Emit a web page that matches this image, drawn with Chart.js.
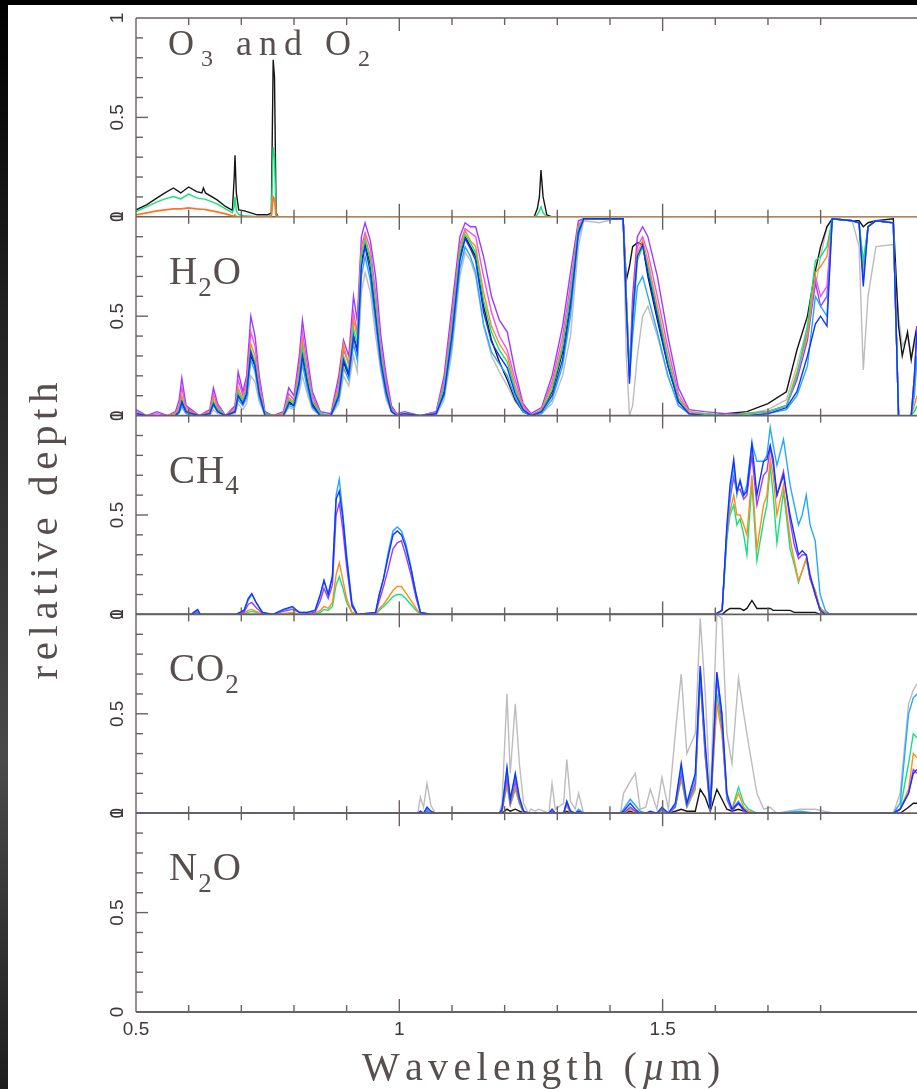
<!DOCTYPE html>
<html>
<head>
<meta charset="utf-8">
<title>Relative depth of absorption bands</title>
<script src="https://cdn.jsdelivr.net/npm/chart.js@4.4.1/dist/chart.umd.min.js"></script>
<style>
  html, body { margin: 0; padding: 0; background: #fff; }
  #spectra { display: block; width: 917px; height: 1089px; }
</style>
</head>
<body>
<canvas id="spectra" width="917" height="1089"></canvas>
<script>
// wavelength (micron) and relative depth

const xTickLabels = ['0.5', '1', '1.5']
const yTickLabels = ['0', '0.5', '1']

// --- O3 and O2 ---
const o3Wave = [0.5, 0.52, 0.54, 0.555, 0.571, 0.585, 0.6, 0.615, 0.625, 0.628, 0.632, 0.654, 0.67, 0.683,
    0.6865, 0.688, 0.6905, 0.695, 0.706, 0.73, 0.75, 0.757, 0.7605, 0.763, 0.766, 0.77,
    1.256, 1.262, 1.266, 1.269, 1.273, 1.28, 1.29, 1.983]
const o3Black = [0.035, 0.06, 0.095, 0.12, 0.145, 0.12, 0.15, 0.127, 0.12, 0.145, 0.12, 0.085, 0.052, 0.032,
    0.2, 0.31, 0.12, 0.035, 0.03, 0.01, 0.01, 0.02, 0.79, 0.7, 0.02, 0,
    0, 0.04, 0.1, 0.235, 0.1, 0.01, 0, 0]
const o3Green = [0.026, 0.05, 0.075, 0.09, 0.102, 0.09, 0.114, 0.095, 0.09, 0.09, 0.088, 0.065, 0.04, 0.02,
    0.05, 0.1, 0.03, 0.01, 0.005, 0, 0, 0.01, 0.35, 0.3, 0.01, 0,
    0, 0.01, 0.03, 0.05, 0.02, 0, 0, 0]
const o3Orange = [0.01, 0.02, 0.03, 0.035, 0.04, 0.04, 0.045, 0.04, 0.038, 0.038, 0.036, 0.025, 0.015, 0.005,
    0.005, 0.01, 0, 0, 0, 0, 0, 0, 0.1, 0.09, 0, 0,
    0, 0, 0, 0, 0, 0, 0, 0]

// --- H2O ---
const h2oWave = [
    0.50, 0.52, 0.54, 0.56, 0.575, 0.582, 0.587, 0.595, 0.62, 0.64, 0.647, 0.655, 0.67, 0.688, 0.694, 0.703, 0.71, 0.718, 0.726, 0.734, 0.745, 0.76,
    0.78, 0.79, 0.80, 0.81, 0.816, 0.825, 0.835, 0.85,
    0.87, 0.885, 0.894, 0.904, 0.913, 0.92, 0.928, 0.935, 0.945, 0.955, 0.965, 0.975, 0.985, 0.995, 1.01, 1.04,
    1.07, 1.085, 1.10, 1.115, 1.125, 1.135, 1.145, 1.16, 1.175, 1.19, 1.205, 1.22, 1.235, 1.25,
    1.27, 1.29, 1.31, 1.325, 1.34, 1.35, 1.38, 1.41, 1.425, 1.431, 1.437, 1.443, 1.452, 1.462, 1.472, 1.49, 1.51, 1.53, 1.55,
    1.58, 1.62, 1.66, 1.70, 1.735, 1.755, 1.775, 1.79, 1.80, 1.812, 1.822, 1.86, 1.873, 1.881, 1.89, 1.905, 1.938, 1.948, 1.955, 1.965, 1.972, 1.978, 1.983]
const h2oPurple = [
    0.03, 0, 0.02, 0, 0.02, 0.08, 0.19, 0.05, 0, 0.03, 0.14, 0.06, 0, 0.05, 0.22, 0.12, 0.2, 0.5, 0.4, 0.2, 0.02, 0,
    0.02, 0.14, 0.1, 0.3, 0.48, 0.3, 0.12, 0.02,
    0.01, 0.2, 0.38, 0.3, 0.6, 0.48, 0.9, 0.97, 0.88, 0.7, 0.4, 0.2, 0.05, 0.01, 0.02, 0,
    0.02, 0.2, 0.55, 0.9, 0.97, 0.95, 0.95, 0.8, 0.6, 0.48, 0.42, 0.22, 0.06, 0.01,
    0.04, 0.2, 0.45, 0.72, 0.98, 0.99, 0.99, 0.99, 0.99, 0.6, 0.2, 0.6, 0.9, 0.95, 0.9, 0.7, 0.4, 0.14, 0.03,
    0.02, 0.01, 0.01, 0.02, 0.05, 0.18, 0.38, 0.67, 0.55, 0.6, 0.99, 0.98, 0.97, 0.7, 0.95, 0.98, 0.97, 0, 0, 0, 0, 0.2, 0.45]
const h2oMagenta = [
    0.02, 0, 0.01, 0, 0.01, 0.05, 0.14, 0.04, 0, 0.02, 0.11, 0.05, 0, 0.04, 0.18, 0.1, 0.17, 0.42, 0.35, 0.17, 0.01, 0,
    0.01, 0.11, 0.08, 0.26, 0.42, 0.26, 0.1, 0.01,
    0, 0.17, 0.33, 0.26, 0.52, 0.42, 0.85, 0.92, 0.84, 0.62, 0.35, 0.17, 0.04, 0.01, 0.01, 0,
    0.02, 0.17, 0.5, 0.86, 0.94, 0.92, 0.9, 0.7, 0.52, 0.4, 0.33, 0.18, 0.05, 0,
    0.03, 0.17, 0.4, 0.66, 0.96, 0.99, 0.99, 0.99, 0.99, 0.6, 0.2, 0.5, 0.85, 0.9, 0.82, 0.6, 0.34, 0.11, 0.02,
    0.01, 0, 0.01, 0.02, 0.05, 0.2, 0.42, 0.7, 0.6, 0.65, 0.99, 0.98, 0.97, 0.72, 0.95, 0.98, 0.97, 0, 0, 0, 0, 0.12, 0.3]
const h2oOrange = [
    0.01, 0, 0, 0, 0.01, 0.04, 0.1, 0.03, 0, 0.02, 0.09, 0.04, 0, 0.03, 0.14, 0.08, 0.15, 0.36, 0.3, 0.14, 0.01, 0,
    0.01, 0.09, 0.07, 0.22, 0.38, 0.22, 0.08, 0.01,
    0, 0.14, 0.36, 0.25, 0.48, 0.4, 0.82, 0.9, 0.8, 0.58, 0.32, 0.14, 0.03, 0, 0.01, 0,
    0.01, 0.15, 0.46, 0.84, 0.93, 0.88, 0.85, 0.62, 0.45, 0.36, 0.3, 0.15, 0.04, 0,
    0.03, 0.15, 0.36, 0.62, 0.95, 0.99, 0.99, 0.99, 0.99, 0.6, 0.22, 0.5, 0.82, 0.88, 0.78, 0.55, 0.3, 0.09, 0.02,
    0.01, 0, 0.01, 0.02, 0.05, 0.22, 0.4, 0.72, 0.75, 0.8, 0.99, 0.98, 0.97, 0.75, 0.95, 0.98, 0.97, 0, 0, 0, 0, 0.05, 0.1]
const h2oGreen = [
    0.01, 0, 0, 0, 0, 0.03, 0.08, 0.02, 0, 0.01, 0.07, 0.03, 0, 0.02, 0.12, 0.07, 0.13, 0.33, 0.27, 0.12, 0.01, 0,
    0, 0.08, 0.06, 0.2, 0.34, 0.2, 0.07, 0.01,
    0, 0.12, 0.3, 0.22, 0.44, 0.36, 0.8, 0.88, 0.78, 0.55, 0.3, 0.13, 0.03, 0, 0.01, 0,
    0.01, 0.14, 0.44, 0.82, 0.91, 0.87, 0.82, 0.58, 0.42, 0.33, 0.27, 0.13, 0.03, 0,
    0.02, 0.13, 0.34, 0.6, 0.94, 0.99, 0.99, 0.99, 0.99, 0.6, 0.22, 0.45, 0.78, 0.85, 0.75, 0.52, 0.28, 0.08, 0.01,
    0.01, 0, 0.01, 0.02, 0.05, 0.2, 0.45, 0.78, 0.8, 0.85, 0.99, 0.98, 0.97, 0.78, 0.95, 0.98, 0.97, 0, 0, 0, 0, 0.02, 0.05]
const h2oBlack = [
    0, 0, 0, 0, 0, 0.02, 0.06, 0.02, 0, 0.01, 0.06, 0.03, 0, 0.02, 0.1, 0.06, 0.1, 0.3, 0.25, 0.11, 0.01, 0,
    0, 0.07, 0.05, 0.18, 0.3, 0.18, 0.06, 0,
    0, 0.1, 0.27, 0.2, 0.4, 0.33, 0.78, 0.86, 0.76, 0.52, 0.33, 0.16, 0.04, 0.01, 0.01, 0,
    0.01, 0.12, 0.42, 0.8, 0.9, 0.85, 0.8, 0.55, 0.38, 0.27, 0.18, 0.08, 0.02, 0,
    0.02, 0.12, 0.32, 0.58, 0.93, 0.99, 0.99, 0.99, 0.99, 0.68, 0.75, 0.85, 0.87, 0.86, 0.7, 0.48, 0.25, 0.07, 0.01,
    0, 0.01, 0.02, 0.06, 0.12, 0.33, 0.5, 0.73, 0.85, 0.95, 0.99, 0.98, 0.98, 0.95, 0.97, 0.98, 0.99, 0.45, 0.3, 0.42, 0.28, 0.38, 0.45]
const h2oBlue = [
    0.01, 0, 0, 0, 0, 0.02, 0.07, 0.02, 0, 0.01, 0.06, 0.02, 0, 0.02, 0.1, 0.06, 0.11, 0.32, 0.25, 0.11, 0, 0,
    0, 0.06, 0.05, 0.17, 0.3, 0.17, 0.05, 0,
    0, 0.1, 0.28, 0.21, 0.4, 0.32, 0.75, 0.85, 0.72, 0.5, 0.27, 0.12, 0.02, 0, 0.01, 0,
    0.01, 0.11, 0.4, 0.78, 0.89, 0.84, 0.78, 0.52, 0.37, 0.3, 0.24, 0.11, 0.03, 0,
    0.02, 0.1, 0.28, 0.55, 0.92, 0.99, 0.99, 0.99, 0.99, 0.55, 0.16, 0.5, 0.8, 0.86, 0.72, 0.5, 0.25, 0.07, 0.01,
    0, 0, 0, 0.01, 0.04, 0.12, 0.3, 0.46, 0.5, 0.45, 0.99, 0.98, 0.97, 0.65, 0.95, 0.98, 0.97, 0, 0, 0, 0, 0.2, 0.42]
const h2oLightBlue = [
    0.01, 0, 0, 0, 0, 0.02, 0.05, 0.01, 0, 0.01, 0.05, 0.02, 0, 0.02, 0.08, 0.05, 0.09, 0.28, 0.22, 0.09, 0, 0,
    0, 0.05, 0.04, 0.15, 0.26, 0.14, 0.04, 0,
    0, 0.08, 0.24, 0.18, 0.36, 0.28, 0.7, 0.8, 0.68, 0.46, 0.24, 0.1, 0.02, 0, 0, 0,
    0.01, 0.1, 0.36, 0.74, 0.85, 0.8, 0.72, 0.46, 0.32, 0.26, 0.2, 0.09, 0.02, 0,
    0.01, 0.08, 0.25, 0.5, 0.9, 0.99, 0.99, 0.99, 0.99, 0.55, 0.18, 0.4, 0.65, 0.7, 0.6, 0.42, 0.2, 0.05, 0.01,
    0, 0, 0, 0.01, 0.03, 0.1, 0.25, 0.6, 0.55, 0.5, 0.99, 0.98, 0.97, 0.68, 0.95, 0.98, 0.97, 0, 0, 0, 0, 0.1, 0.3]
const h2oGray = [
    0, 0, 0, 0, 0, 0.01, 0.04, 0.01, 0, 0, 0.03, 0.01, 0, 0.01, 0.06, 0.03, 0.06, 0.2, 0.17, 0.07, 0, 0,
    0, 0.04, 0.03, 0.12, 0.2, 0.11, 0.03, 0,
    0, 0.06, 0.2, 0.15, 0.3, 0.22, 0.62, 0.72, 0.62, 0.4, 0.22, 0.08, 0.02, 0, 0, 0,
    0, 0.08, 0.32, 0.7, 0.82, 0.78, 0.7, 0.45, 0.3, 0.22, 0.15, 0.07, 0.02, 0,
    0.01, 0.06, 0.2, 0.4, 0.85, 0.98, 0.97, 0.99, 0.99, 0.3, 0, 0.05, 0.3, 0.5, 0.55, 0.4, 0.2, 0.05, 0.01,
    0, 0, 0.01, 0.03, 0.08, 0.25, 0.45, 0.65, 0.8, 0.95, 0.99, 0.98, 0.85, 0.23, 0.6, 0.85, 0.86, 0.5, 0.35, 0.4, 0.3, 0.35, 0.45]

// --- CH4 ---
const ch4Wave = [0.5, 0.605, 0.612, 0.617, 0.622, 0.69,
    0.705, 0.713, 0.72, 0.728, 0.74, 0.76,
    0.78, 0.797, 0.81, 0.825, 0.84,
    0.85, 0.857, 0.865, 0.873, 0.88, 0.886, 0.893, 0.9, 0.91, 0.92,
    0.955, 0.962, 0.97, 0.978, 0.988, 0.996, 1.004, 1.012, 1.022, 1.032, 1.04, 1.06,
    1.6, 1.613, 1.622, 1.628, 1.635, 1.641, 1.647, 1.654, 1.66, 1.6695,
    1.679, 1.6916, 1.698, 1.7043, 1.71, 1.717, 1.7295, 1.742, 1.75, 1.758,
    1.765, 1.7727, 1.78, 1.7897, 1.799, 1.809, 1.818, 1.983]
const ch4LightBlue = [0, 0, 0.01, 0.02, 0, 0,
    0.02, 0.07, 0.1, 0.06, 0.01, 0,
    0.02, 0.035, 0.01, 0.01, 0.02,
    0.1, 0.17, 0.1, 0.2, 0.6, 0.68, 0.5, 0.3, 0.06, 0,
    0.01, 0.1, 0.18, 0.3, 0.42, 0.44, 0.42, 0.36, 0.24, 0.1, 0.01, 0,
    0, 0.02, 0.42, 0.6, 0.75, 0.6, 0.68, 0.6, 0.65, 0.86,
    0.77, 0.77, 0.8, 0.94, 0.85, 0.75, 0.88, 0.65, 0.55, 0.45,
    0.5, 0.6, 0.45, 0.37, 0.1, 0.02, 0, 0]
const ch4Blue = [0, 0, 0.015, 0.025, 0, 0,
    0.02, 0.08, 0.105, 0.06, 0.01, 0,
    0.025, 0.04, 0.01, 0.01, 0.02,
    0.1, 0.17, 0.1, 0.19, 0.58, 0.62, 0.48, 0.28, 0.05, 0,
    0.01, 0.1, 0.18, 0.28, 0.4, 0.42, 0.4, 0.34, 0.23, 0.1, 0.01, 0,
    0, 0.02, 0.45, 0.65, 0.78, 0.62, 0.67, 0.6, 0.62, 0.86,
    0.6, 0.77, 0.78, 0.85, 0.78, 0.6, 0.7, 0.5, 0.4, 0.3,
    0.32, 0.3, 0.2, 0.1, 0.02, 0, 0, 0]
const ch4Purple = [0, 0, 0.005, 0.01, 0, 0,
    0.01, 0.05, 0.06, 0.035, 0.005, 0,
    0.015, 0.025, 0.01, 0.005, 0.01,
    0.07, 0.13, 0.08, 0.15, 0.5, 0.56, 0.42, 0.24, 0.04, 0,
    0.005, 0.07, 0.14, 0.22, 0.33, 0.36, 0.37, 0.3, 0.2, 0.08, 0.01, 0,
    0, 0.02, 0.42, 0.58, 0.69, 0.62, 0.63, 0.58, 0.6, 0.8,
    0.55, 0.7, 0.72, 0.84, 0.75, 0.6, 0.72, 0.47, 0.35, 0.28,
    0.3, 0.3, 0.18, 0.1, 0.02, 0, 0, 0]
const ch4Orange = [0, 0, 0, 0, 0, 0,
    0.005, 0.02, 0.025, 0.015, 0, 0,
    0.005, 0.01, 0, 0, 0.005,
    0.02, 0.04, 0.03, 0.06, 0.2, 0.26, 0.17, 0.08, 0.01, 0,
    0, 0.03, 0.05, 0.08, 0.12, 0.14, 0.14, 0.11, 0.07, 0.03, 0, 0,
    0, 0.02, 0.4, 0.52, 0.6, 0.5, 0.5, 0.45, 0.4, 0.7,
    0.33, 0.55, 0.6, 0.78, 0.7, 0.5, 0.65, 0.38, 0.27, 0.17,
    0.22, 0.28, 0.18, 0.12, 0.03, 0.01, 0, 0]
const ch4Green = [0, 0, 0, 0, 0, 0,
    0, 0.01, 0.015, 0.01, 0, 0,
    0, 0.005, 0, 0, 0,
    0.01, 0.025, 0.02, 0.04, 0.15, 0.19, 0.13, 0.06, 0.01, 0,
    0, 0.02, 0.04, 0.06, 0.09, 0.1, 0.1, 0.08, 0.05, 0.02, 0, 0,
    0, 0.02, 0.38, 0.5, 0.55, 0.45, 0.48, 0.4, 0.3, 0.66,
    0.27, 0.47, 0.55, 0.75, 0.6, 0.36, 0.62, 0.33, 0.25, 0.16,
    0.22, 0.28, 0.18, 0.12, 0.03, 0.01, 0, 0]
const ch4Black = [0, 0, 0, 0, 0, 0,
    0, 0, 0, 0, 0, 0,
    0, 0, 0, 0, 0,
    0, 0, 0, 0, 0, 0, 0, 0, 0, 0,
    0, 0, 0, 0, 0, 0, 0, 0, 0, 0, 0, 0,
    0, 0, 0.02, 0.03, 0.03, 0.03, 0.03, 0.02, 0.03, 0.07,
    0.03, 0.03, 0.03, 0.03, 0.02, 0.02, 0.02, 0.02, 0.01, 0.01,
    0.01, 0.01, 0.01, 0.01, 0, 0, 0, 0]

// --- CO2 ---
const co2Wave = [0.5, 1.035, 1.04, 1.046, 1.0525, 1.06, 1.068,
    1.19, 1.195, 1.2044, 1.2107, 1.2202, 1.228, 1.236, 1.245,
    1.25, 1.258, 1.265, 1.284, 1.29, 1.296,
    1.312, 1.318, 1.325, 1.334, 1.3404, 1.35,
    1.42, 1.4258, 1.4385, 1.448, 1.4575, 1.468, 1.4765, 1.489, 1.4987, 1.511,
    1.524, 1.5353, 1.546, 1.562, 1.5714, 1.581, 1.5905, 1.603, 1.6126, 1.622, 1.6316, 1.644, 1.654, 1.663, 1.679, 1.692, 1.704, 1.717,
    1.761, 1.7897, 1.825, 1.938, 1.951, 1.967, 1.976, 1.983]
const co2Gray = [0, 0, 0.08, 0.03, 0.15, 0.04, 0,
    0, 0.05, 0.6, 0.2, 0.55, 0.25, 0.05, 0,
    0.02, 0.01, 0.02, 0, 0.15, 0.02,
    0.05, 0.27, 0.06, 0.02, 0.1, 0,
    0, 0.1, 0.16, 0.2, 0.02, 0.03, 0.12, 0.02, 0.18, 0.02,
    0.4, 0.7, 0.3, 0.4, 0.98, 0.6, 0.08, 1.0, 0.98, 0.4, 0.25, 0.68, 0.5, 0.35, 0.1, 0.02, 0.03, 0,
    0.02, 0.02, 0, 0, 0.1, 0.55, 0.62, 0.65]
const co2Blue = [0, 0, 0.01, 0, 0.03, 0.01, 0,
    0, 0.02, 0.23, 0.07, 0.2, 0.08, 0.01, 0,
    0, 0, 0, 0, 0.02, 0,
    0, 0.06, 0.01, 0, 0.01, 0,
    0, 0.01, 0.05, 0.02, 0, 0, 0.01, 0, 0.03, 0,
    0.05, 0.25, 0.05, 0.2, 0.74, 0.35, 0.02, 0.71, 0.5, 0.1, 0.02, 0.05, 0.02, 0, 0, 0, 0, 0,
    0, 0, 0, 0, 0.02, 0.1, 0.2, 0.22]
const co2LightBlue = [0, 0, 0, 0, 0.02, 0, 0,
    0, 0.02, 0.22, 0.06, 0.19, 0.07, 0.01, 0,
    0, 0, 0, 0, 0.01, 0,
    0, 0.06, 0.01, 0, 0.02, 0,
    0, 0.02, 0.07, 0.04, 0.01, 0, 0, 0, 0.02, 0,
    0.04, 0.23, 0.04, 0.18, 0.72, 0.33, 0.02, 0.7, 0.5, 0.08, 0.02, 0.06, 0.02, 0, 0, 0, 0, 0,
    0.01, 0, 0, 0, 0.05, 0.5, 0.58, 0.6]
const co2Purple = [0, 0, 0, 0, 0.01, 0, 0,
    0, 0.01, 0.18, 0.05, 0.16, 0.06, 0.01, 0,
    0, 0, 0, 0, 0.01, 0,
    0, 0.05, 0.01, 0, 0, 0,
    0, 0, 0.03, 0.01, 0, 0, 0, 0, 0.02, 0,
    0.03, 0.2, 0.04, 0.15, 0.7, 0.3, 0.01, 0.68, 0.45, 0.07, 0.01, 0.05, 0.01, 0, 0, 0, 0, 0,
    0, 0, 0, 0, 0.02, 0.1, 0.22, 0.2]
const co2Orange = [0, 0, 0, 0, 0.01, 0, 0,
    0, 0.01, 0.15, 0.04, 0.13, 0.05, 0, 0,
    0, 0, 0, 0, 0.01, 0,
    0, 0.04, 0, 0, 0, 0,
    0, 0, 0.02, 0.01, 0, 0, 0, 0, 0.01, 0,
    0.03, 0.18, 0.03, 0.13, 0.68, 0.28, 0.01, 0.55, 0.4, 0.08, 0.02, 0.1, 0.03, 0.01, 0, 0, 0, 0,
    0, 0, 0, 0, 0.02, 0.12, 0.3, 0.28]
const co2Green = [0, 0, 0, 0, 0.01, 0, 0,
    0, 0.01, 0.14, 0.04, 0.12, 0.05, 0, 0,
    0, 0, 0, 0, 0.01, 0,
    0, 0.04, 0, 0, 0, 0,
    0, 0, 0.03, 0.01, 0, 0, 0, 0, 0.01, 0,
    0.03, 0.17, 0.03, 0.12, 0.68, 0.28, 0.01, 0.6, 0.42, 0.08, 0.02, 0.13, 0.05, 0.02, 0, 0, 0, 0,
    0, 0, 0, 0, 0.02, 0.25, 0.4, 0.38]
const co2Black = [0, 0, 0, 0, 0.01, 0, 0,
    0, 0, 0.02, 0.01, 0.02, 0.01, 0, 0,
    0, 0, 0, 0, 0, 0,
    0, 0.01, 0, 0, 0, 0,
    0, 0, 0.01, 0, 0, 0, 0, 0, 0, 0,
    0.01, 0.02, 0.01, 0.01, 0.12, 0.08, 0.01, 0.12, 0.07, 0.02, 0.01, 0.02, 0.01, 0, 0, 0, 0, 0,
    0, 0, 0, 0, 0, 0.03, 0.05, 0.05]

// --- N2O (nothing above zero) ---
const n2oWave = [0.5, 1.983]
const n2oBlack = [0, 0]

const panelAxes = ['yO3', 'yH2O', 'yCH4', 'yCO2', 'yN2O']
const panelLabels = [
    [['O', 0], ['3', 1], [' and O', 0], ['2', 1]],
    [['H', 0], ['2', 1], ['O', 0]],
    [['CH', 0], ['4', 1]],
    [['CO', 0], ['2', 1]],
    [['N', 0], ['2', 1], ['O', 0]],
]

const col = {
    black: '#151515', gray: '#bcbcbc', purple: '#9b3cff', magenta: '#f04ef0',
    orange: '#ff8c1e', green: '#16e07c', blue: '#1234ff', lightblue: '#24a8ff', o3orange: '#ff7424'
}
const inkColor = '#574e4e'
const tickInk = '#3e3838'
const axisColor = '#6a6060'

function series(wave, values, color, axis, width) {
    return {
        data: wave.map((w, i) => ({ x: w, y: values[i] })),
        borderColor: color,
        borderWidth: width || 1.4,
        yAxisID: axis,
        pointRadius: 0,
        tension: 0,
        fill: false
    }
}

// first dataset is drawn on top
const datasets = [
    series(o3Wave, o3Orange, col.o3orange, 'yO3', 1.7),
    series(o3Wave, o3Green, col.green, 'yO3'),
    series(o3Wave, o3Black, col.black, 'yO3'),

    series(h2oWave, h2oBlue, col.blue, 'yH2O'),
    series(h2oWave, h2oLightBlue, col.lightblue, 'yH2O'),
    series(h2oWave, h2oGreen, col.green, 'yH2O'),
    series(h2oWave, h2oOrange, col.orange, 'yH2O'),
    series(h2oWave, h2oMagenta, col.magenta, 'yH2O'),
    series(h2oWave, h2oPurple, col.purple, 'yH2O'),
    series(h2oWave, h2oBlack, col.black, 'yH2O'),
    series(h2oWave, h2oGray, col.gray, 'yH2O'),

    series(ch4Wave, ch4Blue, col.blue, 'yCH4'),
    series(ch4Wave, ch4LightBlue, col.lightblue, 'yCH4'),
    series(ch4Wave, ch4Purple, col.purple, 'yCH4'),
    series(ch4Wave, ch4Orange, col.orange, 'yCH4'),
    series(ch4Wave, ch4Green, col.green, 'yCH4'),
    series(ch4Wave, ch4Black, col.black, 'yCH4'),

    series(co2Wave, co2Blue, col.blue, 'yCO2'),
    series(co2Wave, co2LightBlue, col.lightblue, 'yCO2'),
    series(co2Wave, co2Purple, col.purple, 'yCO2'),
    series(co2Wave, co2Orange, col.orange, 'yCO2'),
    series(co2Wave, co2Green, col.green, 'yCO2'),
    series(co2Wave, co2Black, col.black, 'yCO2'),
    series(co2Wave, co2Gray, col.gray, 'yCO2'),

    series(n2oWave, n2oBlack, axisColor, 'yN2O'),
]

const serif = '"Liberation Serif"'
const tickFont = '19px "Liberation Sans"'

// text with extra letter spacing; kind 1 = subscript, 2 = italic
function drawParts(ctx, parts, x, y, size, track) {
    for (const [text, kind] of parts) {
        if (kind === 1) ctx.font = Math.round(size * 0.68) + 'px ' + serif
        else ctx.font = (kind === 2 ? 'italic ' : '') + size + 'px ' + serif
        for (const ch of text) {
            ctx.fillText(ch, x, kind === 1 ? y + size * 0.3 : y)
            x += ctx.measureText(ch).width + track
        }
    }
    return x
}

function line(ctx, x1, y1, x2, y2) {
    ctx.beginPath()
    ctx.moveTo(x1, y1)
    ctx.lineTo(x2, y2)
    ctx.stroke()
}

const isMultiple = (v, step) => Math.abs(v / step - Math.round(v / step)) < 1e-6

const framePlugin = {
    id: 'frame',
    beforeDraw(chart) {
        const { ctx, width, height } = chart
        ctx.save()
        ctx.fillStyle = '#fff'
        ctx.fillRect(0, 0, width, height)
        ctx.restore()
    },
    beforeDatasetsDraw(chart) {
        // the O3 baseline sits under the orange curve
        const { ctx, chartArea, scales } = chart
        ctx.save()
        ctx.strokeStyle = axisColor
        ctx.lineWidth = 1.4
        const y0 = scales.yO3.getPixelForValue(0)
        line(ctx, chartArea.left, y0, chartArea.right, y0)
        ctx.restore()
    },
    afterDatasetsDraw(chart) {
        const { ctx, chartArea, scales } = chart
        const { left, right, top, bottom } = chartArea
        const xs = scales.x
        const xTicks = xs.ticks.map(t => t.value).filter(v => v > 0.5 + 1e-6 && isMultiple(v, 0.1))
        ctx.save()
        ctx.strokeStyle = axisColor
        ctx.lineWidth = 1.4
        line(ctx, left, top, right, top)
        line(ctx, left, top, left, bottom)
        panelAxes.forEach((id, i) => {
            const s = scales[id]
            const y0 = s.getPixelForValue(0)
            if (i > 0) {
                ctx.lineWidth = 1.8
                line(ctx, left, y0, right, y0)
                ctx.lineWidth = 1.4
            }
            s.ticks.forEach(t => {
                if (t.value <= 1e-6 || t.value >= 1 - 1e-6) return
                const len = isMultiple(t.value, 0.5) ? 12 : 7
                const py = s.getPixelForValue(t.value)
                line(ctx, left, py, left + len, py)
            })
        })
        // wavelength ticks on every panel edge, pointing into the panels
        const edges = [top].concat(panelAxes.map(id => scales[id].getPixelForValue(0)))
        edges.forEach((ey, i) => {
            xTicks.forEach(v => {
                const len = isMultiple(v, 0.5) ? 13 : 7
                const px = xs.getPixelForValue(v)
                if (i < edges.length - 1) line(ctx, px, ey, px, ey + len)
                if (i > 0) line(ctx, px, ey, px, ey - len)
            })
        })
        ctx.restore()
    },
    afterDraw(chart) {
        const { ctx, chartArea, scales } = chart
        const { left, bottom } = chartArea
        ctx.save()
        // depth labels, rotated like the original
        ctx.fillStyle = tickInk
        ctx.font = tickFont
        ctx.textAlign = 'center'
        ctx.textBaseline = 'middle'
        panelAxes.forEach(id => {
            const s = scales[id]
            yTickLabels.forEach(lab => {
                ctx.save()
                ctx.translate(left - 18, s.getPixelForValue(parseFloat(lab)))
                ctx.rotate(-Math.PI / 2)
                ctx.fillText(lab, 0, 0)
                ctx.restore()
            })
        })
        xTickLabels.forEach(lab => {
            ctx.fillText(lab, scales.x.getPixelForValue(parseFloat(lab)), bottom + 18)
        })
        // panel names
        ctx.fillStyle = inkColor
        ctx.textAlign = 'left'
        ctx.textBaseline = 'alphabetic'
        panelAxes.forEach((id, i) => {
            const s = scales[id]
            if (i === 0) drawParts(ctx, panelLabels[i], left + 32, s.top + 37, 36, 7)
            else drawParts(ctx, panelLabels[i], left + 33, s.top + 67, 39, 1)
        })
        // axis titles
        drawParts(ctx, [['Wavelength (', 0], ['\u00b5', 2], ['m)', 0]], left + 226, bottom + 68, 40, 5.3)
        ctx.save()
        ctx.translate(57, 0)
        ctx.rotate(-Math.PI / 2)
        // measure first so the rotated title is centred on the panels
        const titleParts = [['relative depth', 0]]
        ctx.globalAlpha = 0
        const w = drawParts(ctx, titleParts, 0, 0, 41, 5.6) - 5.6
        ctx.globalAlpha = 1
        drawParts(ctx, titleParts, -531 - w / 2, 0, 41, 5.6)
        ctx.restore()
        // dark screen edges of the photo
        ctx.fillStyle = '#000'
        ctx.fillRect(0, 0, chart.width, 5)
        const g = ctx.createLinearGradient(0, 0, 0, chart.height)
        g.addColorStop(0, '#000')
        g.addColorStop(0.3, '#232323')
        g.addColorStop(0.7, '#4a4a4a')
        g.addColorStop(1, '#1e1e1e')
        ctx.fillStyle = g
        ctx.fillRect(0, 0, 8, chart.height)
        ctx.restore()
    }
}

const panelAxis = {
    type: 'linear',
    position: 'left',
    stack: 'panels',
    stackWeight: 1,
    min: 0,
    max: 1,
    grid: { display: false, drawTicks: false },
    border: { display: false },
    ticks: { display: false, stepSize: 0.1 },
    afterFit(scale) { scale.width = 136 }
}

const scales = {
    x: {
        type: 'linear',
        min: 0.5,
        max: 1.983,
        grid: { display: false, drawTicks: false },
        border: { display: false },
        ticks: { display: false, stepSize: 0.1 },
        afterFit(scale) { scale.height = 77 }
    }
}
// stacked left axes are laid out last-defined on top, so add them bottom first
panelAxes.slice().reverse().forEach(id => { scales[id] = Object.assign({}, panelAxis) })

new Chart(document.getElementById('spectra'), {
    type: 'line',
    data: { datasets: datasets },
    options: {
        responsive: false,
        animation: false,
        devicePixelRatio: 1,
        layout: { padding: { top: 18, left: 0, right: 0, bottom: 0 } },
        plugins: { legend: { display: false }, tooltip: { enabled: false } },
        scales: scales
    },
    plugins: [framePlugin]
});
</script>
</body>
</html>
